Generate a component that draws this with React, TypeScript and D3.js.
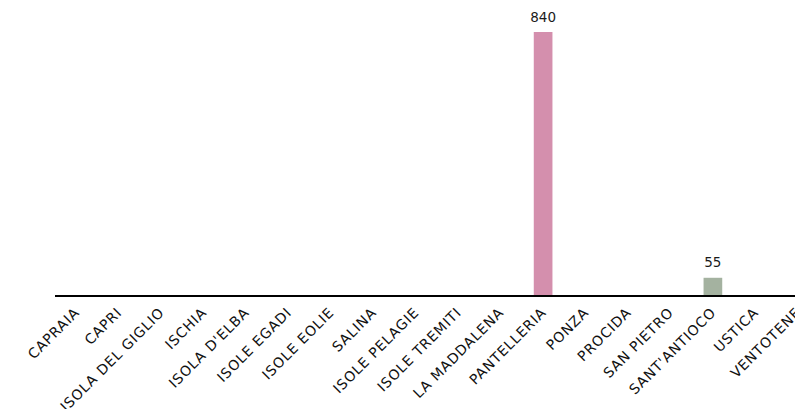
import React from "react";
import * as d3 from "d3";

const islands = [
  "CAPRAIA",
  "CAPRI",
  "ISOLA DEL GIGLIO",
  "ISCHIA",
  "ISOLA D'ELBA",
  "ISOLE EGADI",
  "ISOLE EOLIE",
  "SALINA",
  "ISOLE PELAGIE",
  "ISOLE TREMITI",
  "LA MADDALENA",
  "PANTELLERIA",
  "PONZA",
  "PROCIDA",
  "SAN PIETRO",
  "SANT'ANTIOCO",
  "USTICA",
  "VENTOTENE",
];

// Only islands with a recorded value get a bar
const values: (number | null)[] = [
  null, null, null, null, null, null, null, null, null, null, null,
  840, null, null, null, 55, null, null,
];

const barColors: Record<string, string> = {
  PANTELLERIA: "#d48fad",
  "SANT'ANTIOCO": "#a4b2a0",
};

const W = 795;
const H = 409;
const FONT = "'DejaVu Sans', sans-serif";

export default function App() {
  const x = d3
    .scaleBand<string>()
    .domain(islands)
    .range([55, 819])
    .paddingInner(0.56)
    .paddingOuter(0.28);

  const y = d3.scaleLinear().domain([0, 840]).range([295, 32]);

  const rows = islands.map((name, i) => ({ name, value: values[i] }));

  return (
    <svg
      width={W}
      height={H}
      style={{ position: "fixed", left: 0, top: 0, background: "#fff" }}
    >
      {rows
        .filter((d) => d.value != null)
        .map((d) => {
          const x0 = x(d.name)!;
          const yTop = y(d.value as number);
          return (
            <g key={d.name}>
              <rect
                x={x0}
                y={yTop}
                width={x.bandwidth()}
                height={y(0) - yTop}
                fill={barColors[d.name]}
              />
              <text
                x={x0 + x.bandwidth() / 2}
                y={yTop - 10.5}
                textAnchor="middle"
                fontFamily={FONT}
                fontSize={13.5}
                fill="#1a1a1a"
              >
                {d.value}
              </text>
            </g>
          );
        })}

      <line x1={55} x2={W} y1={296} y2={296} stroke="#000" strokeWidth={2} />

      {islands.map((name) => {
        const cx = x(name)! + x.bandwidth() / 2;
        return (
          <text
            key={name}
            transform={`translate(${cx + 4},${313.5}) rotate(-45)`}
            textAnchor="end"
            fontFamily={FONT}
            fontSize={14}
            letterSpacing={0.8}
            fill="#111"
          >
            {name}
          </text>
        );
      })}
    </svg>
  );
}
